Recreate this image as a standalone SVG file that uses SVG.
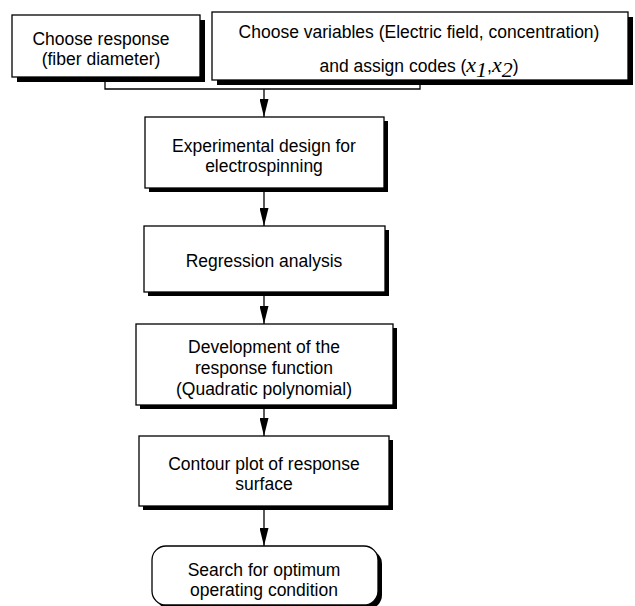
<svg xmlns="http://www.w3.org/2000/svg" width="635" height="606" viewBox="0 0 635 606">
<style>
.box{fill:#fff;stroke:#000;stroke-width:1.3}
.sh{fill:#000}
.t{font-family:"Liberation Sans",Arial,sans-serif;font-size:17.5px;text-anchor:middle;fill:#000}
.m{font-family:"Liberation Serif","Times New Roman",serif;font-style:italic;font-size:22px}
.c{fill:none;stroke:#000;stroke-width:1.3}
</style>
<defs>
<marker id="ah" markerWidth="18" markerHeight="9" refX="18" refY="4.5" orient="auto" markerUnits="userSpaceOnUse" viewBox="0 0 18 9">
<path d="M0,0 L18,4.5 L0,9 Z" fill="#000"/>
</marker>
</defs>
<g id="connectors">
<polyline class="c" points="105,78 105,89 420,89 420,80"/>
<line class="c" x1="264" y1="89" x2="264" y2="117" marker-end="url(#ah)"/>
<line class="c" x1="264" y1="188" x2="264" y2="226" marker-end="url(#ah)"/>
<line class="c" x1="264" y1="292" x2="264" y2="324" marker-end="url(#ah)"/>
<line class="c" x1="264" y1="405" x2="264" y2="436" marker-end="url(#ah)"/>
<line class="c" x1="264" y1="506" x2="264" y2="546" marker-end="url(#ah)"/>
</g>
<g id="n1">
<rect class="sh" x="17" y="20" width="188" height="62"/>
<rect class="box" x="12" y="15" width="188" height="62"/>
<text class="t" x="101" y="45">Choose response</text>
<text class="t" x="101" y="65">(fiber diameter)</text>
</g>
<g id="n2">
<rect class="sh" x="217" y="17" width="416" height="68"/>
<rect class="box" x="212" y="12" width="416" height="68"/>
<text class="t" x="419" y="38">Choose variables (Electric field, concentration)</text>
<text class="t" x="419" y="72">and assign codes (<tspan class="m">x</tspan><tspan class="m" font-size="15" dy="5">1</tspan><tspan dy="-5">,</tspan><tspan class="m">x</tspan><tspan class="m" font-size="15" dy="5">2</tspan><tspan dy="-5">)</tspan></text>
</g>
<g id="n3">
<rect class="sh" x="149" y="121" width="239" height="71"/>
<rect class="box" x="145" y="117" width="239" height="71"/>
<text class="t" x="264" y="152">Experimental design for</text>
<text class="t" x="264" y="172">electrospinning</text>
</g>
<g id="n4">
<rect class="sh" x="148" y="230" width="241" height="66"/>
<rect class="box" x="144" y="226" width="241" height="66"/>
<text class="t" x="264" y="267">Regression analysis</text>
</g>
<g id="n5">
<rect class="sh" x="140" y="328" width="257" height="81"/>
<rect class="box" x="136" y="324" width="257" height="81"/>
<text class="t" x="264" y="353">Development of the</text>
<text class="t" x="264" y="374">response function</text>
<text class="t" x="264" y="395">(Quadratic polynomial)</text>
</g>
<g id="n6">
<rect class="sh" x="143" y="440" width="250" height="70"/>
<rect class="box" x="139" y="436" width="250" height="70"/>
<text class="t" x="264" y="470">Contour plot of response</text>
<text class="t" x="264" y="490">surface</text>
</g>
<g id="n7">
<rect class="sh" x="156" y="550" width="226" height="59" rx="14"/>
<rect class="box" x="152" y="546" width="226" height="59" rx="14"/>
<text class="t" x="264" y="576">Search for optimum</text>
<text class="t" x="264" y="596">operating condition</text>
</g>
</svg>
